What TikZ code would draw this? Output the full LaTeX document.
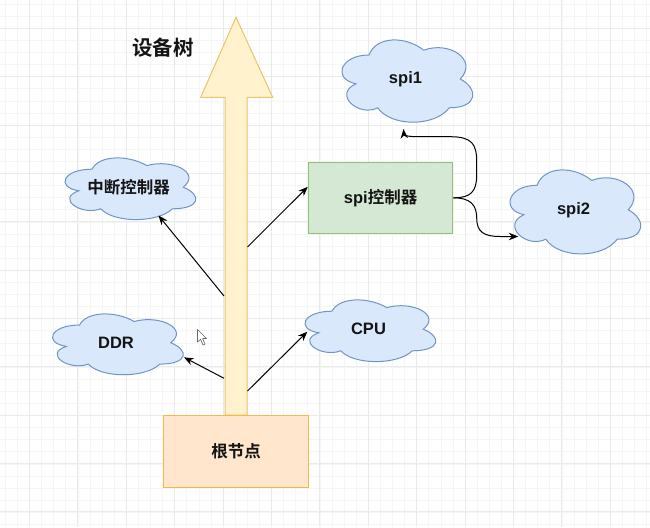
\documentclass[tikz,border=0pt]{standalone}
\usepackage{fontspec}
\setmainfont{Liberation Sans}
\newfontfamily\cjk{Noto Sans CJK SC}[BoldFont={Noto Sans CJK SC Bold}]
\usetikzlibrary{arrows.meta,calc}
\definecolor{cloudF}{HTML}{DAE8FC}
\definecolor{cloudB}{HTML}{7094C6}
\definecolor{rootF}{HTML}{FFE6CC}
\definecolor{rootB}{HTML}{F2B84B}
\definecolor{arrF}{HTML}{FFF2CC}
\definecolor{arrB}{HTML}{E9C56E}
\definecolor{grnF}{HTML}{D5E8D4}
\definecolor{grnB}{HTML}{8FC078}
\definecolor{gridminor}{HTML}{F5F5F5}
\definecolor{gridmajor}{HTML}{EAEAEA}
\definecolor{txt}{HTML}{141414}
\tikzset{
  cloudline/.style={draw=cloudB, fill=cloudF, line width=1pt},
  lbl/.style={font=\bfseries\fontsize{16.5pt}{18pt}\selectfont, inner sep=0pt, text=txt},
  titlestyle/.style={font=\cjk\bfseries\fontsize{20.5pt}{22pt}\selectfont, inner sep=0pt, text=txt},
  conn/.style={draw=black, line width=1pt, -{Stealth[length=9.5pt,width=7.5pt]}},
  rootbox/.style={lbl, draw=rootB, fill=rootF, line width=1pt, minimum width=145pt, minimum height=72pt},
  grnbox/.style={lbl, draw=grnB, fill=grnF, line width=1pt, minimum width=144.7pt, minimum height=71pt},
}
\newcommand\dcloud[6]{%
  \begin{scope}[shift={(#2,#3)},xscale=#4,yscale=#5]
    \draw[cloudline] (0.25,0.25) .. controls (0.05,0.25) and (0,0.5) .. (0.16,0.55)
      .. controls (0,0.66) and (0.18,0.9) .. (0.31,0.8)
      .. controls (0.4,1) and (0.7,1) .. (0.8,0.8)
      .. controls (1,0.8) and (1,0.6) .. (0.875,0.5)
      .. controls (1,0.3) and (0.8,0.1) .. (0.625,0.2)
      .. controls (0.5,0.05) and (0.3,0.05) .. (0.25,0.25) -- cycle;
  \end{scope}
  \node[lbl] (#1) at ({#2+#4/2},{#3+#5/2}) {#6};
}
\begin{document}
\begin{tikzpicture}[x=1pt,y=-1pt]
\useasboundingbox (0,0) rectangle (650,527);
\fill[white] (0,0) rectangle (650,527);
% grid
\foreach \x in {5.2,17.3,...,650} \draw[gridminor,line width=0.6pt] (\x,0) -- (\x,527);
\foreach \y in {4.0,16.1,...,527} \draw[gridminor,line width=0.6pt] (0,\y) -- (650,\y);
\foreach \x in {29.4,77.8,...,650} \draw[gridmajor,line width=0.7pt] (\x,0) -- (\x,527);
\foreach \y in {28.2,76.55,...,527} \draw[gridmajor,line width=0.7pt] (0,\y) -- (650,\y);

% big arrow
\draw[draw=arrB, fill=arrF, line width=1pt] (225,415) -- (225,97.3) -- (200.7,97.3) -- (236,17.3) -- (272.7,97.3) -- (247,97.3) -- (247,415) -- cycle;
\coordinate (sL1) at (224,296);
\coordinate (sR1) at (247.5,247);
\coordinate (sL2) at (224,378.3);
\coordinate (sR2) at (247.5,391);

\node[titlestyle] (title) at (163,48) {设备树};

% root and spi controller
\node[rootbox] (root) at (236,451.3) {\cjk 根节点};
\node[grnbox] (spictl) at (380.6,197.8) {spi{\cjk 控制器}};

% clouds
\dcloud{spione}{332.5}{31}{146}{96}{spi1}
\dcloud{spitwo}{500.5}{160.8}{146}{98}{spi2}
\dcloud{intc}{55.5}{151.2}{146}{72}{\cjk 中断控制器}
\dcloud{ddr}{43}{307.3}{146}{71}{DDR}
\dcloud{cpu}{295.5}{293.2}{146}{72}{CPU}

% connectors
\draw[conn] (sL1) -- ($(intc.center)+(30,28.3)$);
\draw[conn] (sR1) -- ($(spictl.west)+(0,-11)$);
\draw[conn] (sL2) -- ($(ddr.center)+(68,14.5)$);
\draw[conn] (sR2) -- ($(cpu.center)+(-61.2,2.5)$);
\draw[conn] (spictl.east) .. controls ($(spictl.east)+(17,0)$) and (476.7,192) .. (476.7,175)
  -- (476.7,162) .. controls (476.7,144) and (472,136.7) .. (450,136.7)
  -- (418,136.7) .. controls (407,136.7) and (404,135) .. ($(spione.center)+(-2,50)$);
\draw[conn] (spictl.east) .. controls ($(spictl.east)+(17,0)$) and (476.7,205) .. (476.7,218)
  .. controls (476.7,232) and (484,236.5) .. (500,236.5) -- ($(spitwo.center)+(-55.2,26.7)$);

% mouse cursor
\draw[fill=white, draw=black!60, line width=0.6pt, line join=round]
  (197.5,329.5) -- (197.5,342) -- (200.5,339.3) -- (203,345) -- (205,344.1) -- (202.6,338.5) -- (206.5,338.5) -- cycle;
\end{tikzpicture}
\end{document}
